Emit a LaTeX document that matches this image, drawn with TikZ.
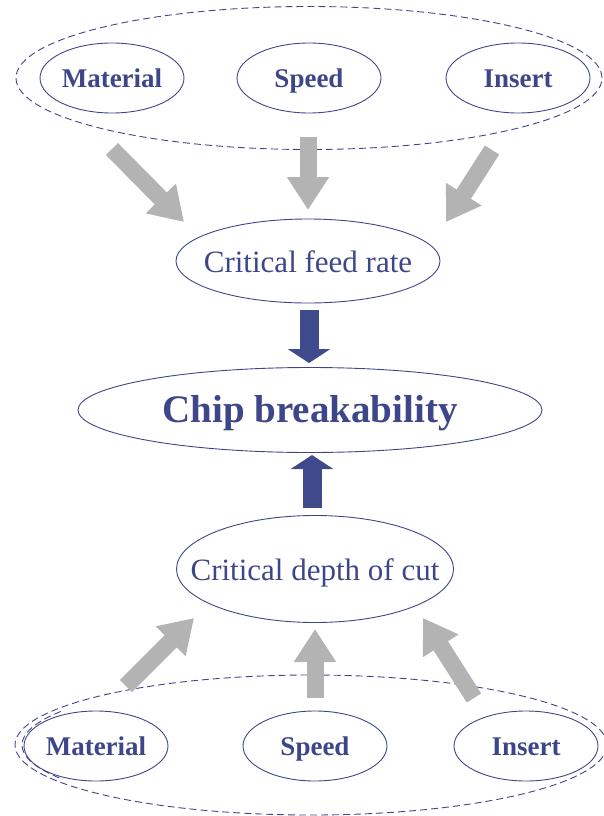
\documentclass[tikz,border=0pt]{standalone}
\usepackage{fontspec}
\setmainfont{Liberation Serif}
\usetikzlibrary{shapes.geometric,arrows.meta}
\definecolor{navy}{HTML}{3D4689}
\definecolor{arrowgray}{HTML}{B3B3B3}
\definecolor{arrowblue}{HTML}{3F4A8C}
\tikzset{
  oval/.style={ellipse, draw=navy, line width=0.9pt, inner sep=0pt},
  smalloval/.style={oval, minimum width=144pt, minimum height=70pt},
  label27/.style={anchor=base, inner sep=0pt, text=navy, font=\fontsize{27}{30}\selectfont\bfseries},
  label31/.style={anchor=base, inner sep=0pt, text=navy, font=\fontsize{31}{34}\selectfont},
  label39/.style={anchor=base, inner sep=0pt, text=navy, font=\fontsize{39}{42}\selectfont\bfseries},
  groupoval/.style={ellipse, draw=navy, line width=0.9pt, dash pattern=on 7pt off 4pt, inner sep=0pt},
  groupdash/.style={draw=navy, line width=0.9pt, dash pattern=on 7pt off 4pt},
  grayarrow/.style={draw=arrowgray, line width=17pt, -{Triangle[length=33pt,width=40pt]}},
  bluearrow/.style={draw=arrowblue, line width=19pt, -{Triangle[length=14pt,width=42pt]}},
}
\begin{document}
\begin{tikzpicture}[x=1pt,y=-1pt]
\useasboundingbox (0,0) rectangle (604,816);
% top group
\node[groupoval, minimum width=586pt, minimum height=143pt] (tout) at (309,78) {};
\node[smalloval] (tm) at (112,78) {};
\node[smalloval] (ts) at (309,78) {};
\node[smalloval] (ti) at (518,78) {};
\node[label27] (tmt) at (112,87) {Material};
\node[label27] (tst) at (309,87) {Speed};
\node[label27] (tit) at (518,87) {Insert};
% middle
\node[oval, minimum width=264pt, minimum height=84pt] (cfr) at (308,261) {};
\node[label31] (cfrt) at (308,272) {Critical feed rate};
\node[oval, minimum width=464pt, minimum height=85pt] (cb) at (310,410) {};
\node[label39] (cbt) at (310,422) {Chip breakability};
\node[oval, minimum width=277pt, minimum height=107pt] (cdc) at (315,569) {};
\node[label31] (cdct) at (315,580) {Critical depth of cut};
% bottom group
\node[groupoval, minimum width=592pt, minimum height=140pt] (bout) at (311,745) {};
\draw[groupdash] ([shift={(150:289pt and 67pt)}]bout.center) arc[start angle=150, end angle=210, x radius=289pt, y radius=67pt];
\node[smalloval] (bm) at (96,746) {};
\node[smalloval] (bs) at (315,746) {};
\node[smalloval] (bi) at (526,746) {};
\node[label27] (bmt) at (96,755) {Material};
\node[label27] (bst) at (315,755) {Speed};
\node[label27] (bit) at (526,755) {Insert};
% arrow end points
\coordinate (a1s) at (112,149); \coordinate (a1e) at (184,222);
\coordinate (a2s) at (308,137); \coordinate (a2e) at (308,210);
\coordinate (a3s) at (492,150); \coordinate (a3e) at (446,222);
\coordinate (d1s) at (309,310); \coordinate (d1e) at (309,363);
\coordinate (d2s) at (312,508); \coordinate (d2e) at (312,455);
\coordinate (b1s) at (126,686); \coordinate (b1e) at (194,618);
\coordinate (b2s) at (315,698); \coordinate (b2e) at (315,629);
\coordinate (b3s) at (474,698); \coordinate (b3e) at (423,618);
\draw[grayarrow] (a1s) -- (a1e);
\draw[grayarrow] (a2s) -- (a2e);
\draw[grayarrow] (a3s) -- (a3e);
\draw[bluearrow] (d1s) -- (d1e);
\draw[bluearrow] (d2s) -- (d2e);
\draw[grayarrow] (b1s) -- (b1e);
\draw[grayarrow] (b2s) -- (b2e);
\draw[grayarrow] (b3s) -- (b3e);
\end{tikzpicture}
\end{document}
